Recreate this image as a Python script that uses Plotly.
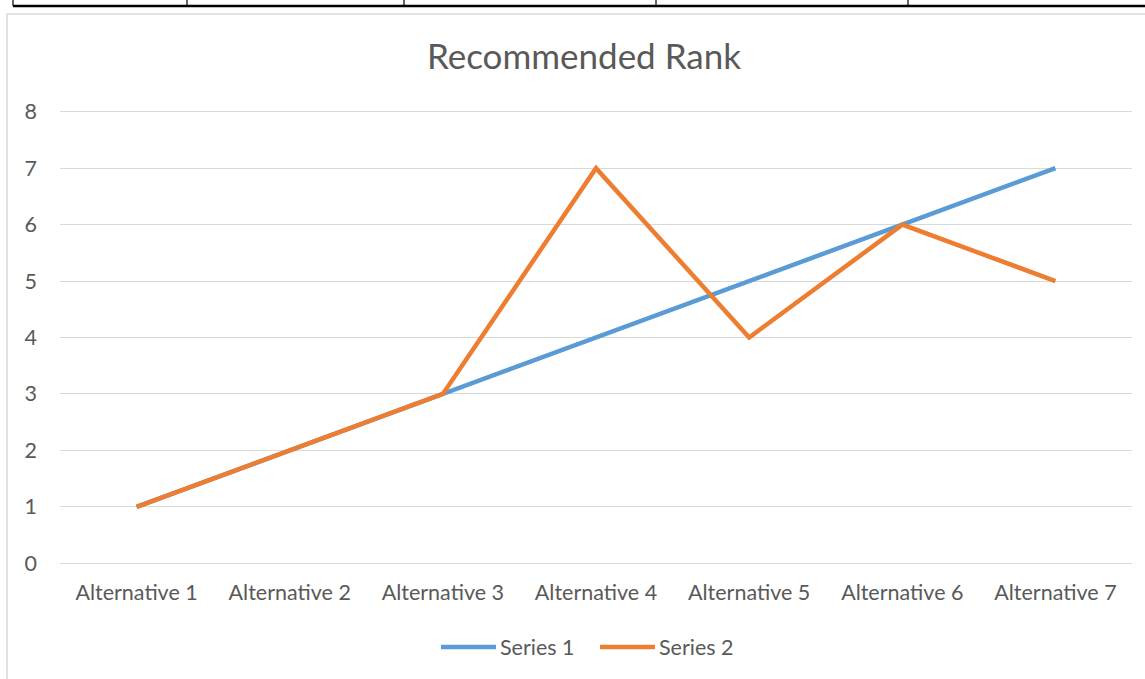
import plotly.graph_objects as go

categories = ["Alternative 1", "Alternative 2", "Alternative 3", "Alternative 4",
              "Alternative 5", "Alternative 6", "Alternative 7"]
series1 = [1, 2, 3, 4, 5, 6, 7]
series2 = [1, 2, 3, 7, 4, 6, 5]

W, H = 1145, 679
ML, MR, MT, MB = 60, 13, 110, 114
PW, PH = W - ML - MR, H - MT - MB

def px(x):
    return (x - ML) / PW

def py(y):
    return 1 - (y - MT) / PH

font = "Lato, Open Sans, sans-serif"
fig = go.Figure()
fig.add_trace(go.Scatter(x=categories, y=series1, mode="lines", name="Series 1",
                         line=dict(color="#5B9BD5", width=4.5, shape="linear")))
fig.add_trace(go.Scatter(x=categories, y=series2, mode="lines", name="Series 2",
                         line=dict(color="#ED7D31", width=4.5, shape="linear")))

shapes = []
# outer chart border
shapes.append(dict(type="rect", xref="paper", yref="paper",
                   x0=px(7), x1=px(1160), y0=py(700), y1=py(14),
                   line=dict(color="#D9D9D9", width=1.5), fillcolor="rgba(0,0,0,0)", layer="below"))
# top table border
shapes.append(dict(type="line", xref="paper", yref="paper",
                   x0=px(13), x1=px(1150), y0=py(6), y1=py(6),
                   line=dict(color="black", width=2.5)))
for xv in [13, 187, 404, 656, 908]:
    shapes.append(dict(type="line", xref="paper", yref="paper",
                       x0=px(xv), x1=px(xv), y0=py(-5), y1=py(6),
                       line=dict(color="black", width=1.2)))

fig.update_layout(
    width=W, height=H,
    margin=dict(l=ML, r=MR, t=MT, b=MB),
    paper_bgcolor="white", plot_bgcolor="white",
    font=dict(family=font, color="#595959", size=21),
    title=dict(text="Recommended Rank", x=px(584), xref="paper", xanchor="center",
               y=1 - 57 / H, yanchor="middle",
               font=dict(family=font, size=35, color="#595959")),
    xaxis=dict(type="category", range=[-0.5, 6.5], showgrid=False, zeroline=False,
               showline=False, ticks="", ticklabelstandoff=12,
               tickfont=dict(size=21.5, color="#595959")),
    yaxis=dict(range=[-0.03, 8.03], tickvals=[0, 1, 2, 3, 4, 5, 6, 7, 8],
               showgrid=True, gridcolor="#D9D9D9", gridwidth=1.3,
               zeroline=False, showline=False, ticks="", ticklabelstandoff=22,
               tickfont=dict(size=21.5, color="#595959")),
    legend=dict(orientation="h", x=px(436), xanchor="left", y=py(647), yanchor="middle",
                font=dict(size=21.5, color="#595959"), itemwidth=30, traceorder="normal",
                entrywidth=114, entrywidthmode="pixels"),
    showlegend=True,
    shapes=shapes,
)

post = """
document.body.style.margin='0px';
document.body.style.overflow='hidden';
document.querySelectorAll('.legendlines path').forEach(function(p){ p.setAttribute('d','M5,0h55'); });
document.querySelectorAll('.legendtext').forEach(function(t){
  var x = parseFloat(t.getAttribute('x')||'40'); t.setAttribute('x', x+24);
  t.querySelectorAll('tspan').forEach(function(s){ if (s.getAttribute('x')) s.setAttribute('x', parseFloat(s.getAttribute('x'))+24); });
});
"""
fig.write_html("out.html", post_script=post, config={"displayModeBar": False})
